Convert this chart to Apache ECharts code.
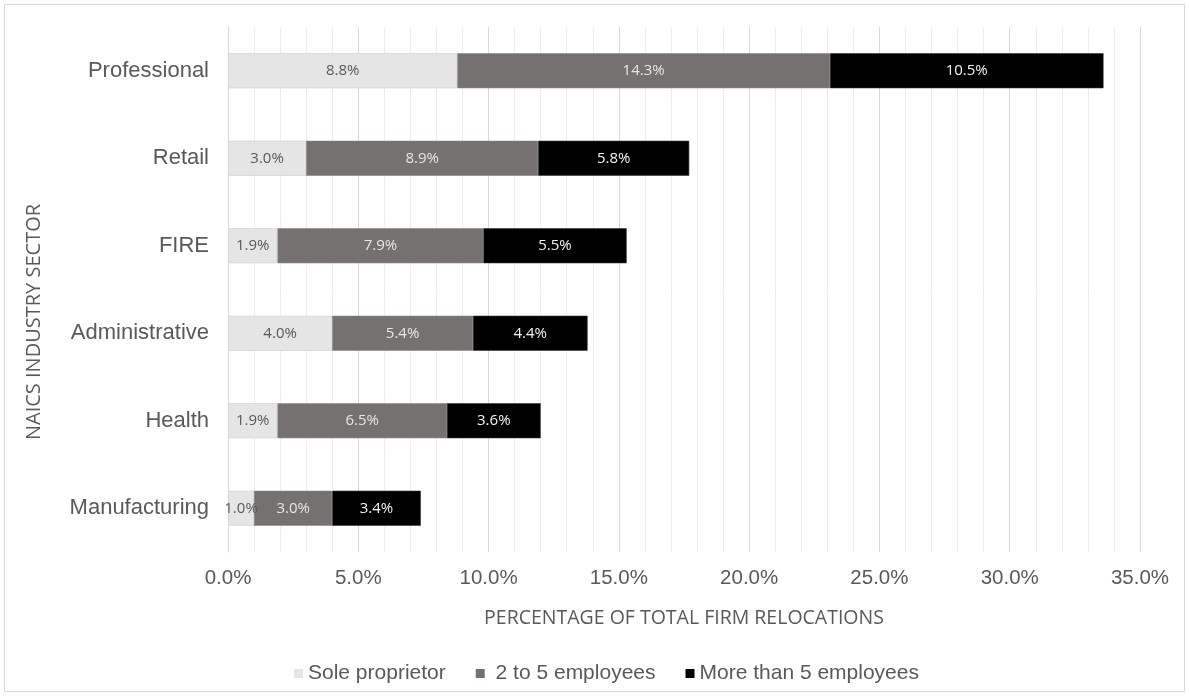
<!DOCTYPE html>
<html>
<head>
<meta charset="utf-8">
<script src="https://cdn.jsdelivr.net/npm/echarts@6/dist/echarts.min.js"></script>
<style>
  html, body { margin: 0; padding: 0; background: #fff; }
  #chart { width: 1189px; height: 696px; }
</style>
</head>
<body>
<div id="chart"></div>
<script>
// Industry sectors, top to bottom
const sectors = ['Professional', 'Retail', 'FIRE', 'Administrative', 'Health', 'Manufacturing'];
// Share of total firm relocations (%) by firm size
const soleProprietor = [8.8, 3.0, 1.9, 4.0, 1.9, 1.0];
const twoToFive = [14.3, 8.9, 7.9, 5.4, 6.5, 3.0];
const moreThanFive = [10.5, 5.8, 5.5, 4.4, 3.6, 3.4];
const seriesNames = ['Sole proprietor', '2 to 5 employees', 'More than 5 employees'];

const labelFont = '"Open Sans", sans-serif';
const axisFont = '"Liberation Sans", Arial, sans-serif';

function barSeries(name, data, fill, textColor, edge) {
  return {
    name: name,
    type: 'bar',
    stack: 'total',
    data: data,
    barWidth: '40%',
    itemStyle: { color: fill, borderColor: edge, borderWidth: 0.6 },
    label: {
      show: true,
      position: 'inside',
      formatter: p => p.value.toFixed(1) + '%',
      color: textColor,
      fontFamily: labelFont,
      fontSize: 15
    },
    emphasis: { disabled: true }
  };
}

const chart = echarts.init(document.getElementById('chart'), null, { renderer: 'canvas' });
chart.setOption({
  animation: false,
  backgroundColor: '#ffffff',
  graphic: [
    {
      type: 'rect',
      shape: { x: 4.5, y: 4.5, width: 1180, height: 687 },
      style: { fill: 'none', stroke: '#d9d9d9', lineWidth: 1 },
      silent: true
    },
    {
      // Vertical axis title, centred a little below the plot middle
      type: 'text',
      x: 34,
      y: 322,
      rotation: Math.PI / 2,
      style: {
        text: 'NAICS INDUSTRY SECTOR',
        fontFamily: labelFont,
        fontSize: 20,
        fill: '#595959',
        align: 'center',
        verticalAlign: 'middle'
      },
      silent: true
    }
  ],
  grid: { left: 228, right: 49, top: 27, bottom: 144, containLabel: false },
  legend: {
    top: 658,
    left: 289,
    itemWidth: 9,
    itemHeight: 9,
    itemGap: 30,
    icon: 'rect',
    itemStyle: { borderWidth: 0 },
    formatter: name => (name === seriesNames[1] ? ' ' + name : name),
    textStyle: { fontFamily: axisFont, fontSize: 21, color: '#595959' },
    data: seriesNames
  },
  xAxis: {
    type: 'value',
    min: 0,
    max: 35,
    interval: 5,
    name: 'PERCENTAGE OF TOTAL FIRM RELOCATIONS',
    nameLocation: 'middle',
    nameGap: 56,
    nameTextStyle: { fontFamily: labelFont, fontSize: 19.5, color: '#595959' },
    axisLine: { show: false },
    axisTick: { show: false },
    axisLabel: {
      formatter: v => v.toFixed(1) + '%',
      fontFamily: axisFont,
      fontSize: 20.5,
      color: '#595959',
      margin: 16
    },
    splitLine: { show: true, lineStyle: { color: '#d9d9d9', width: 1 } },
    minorTick: { show: false, splitNumber: 5 },
    minorSplitLine: { show: true, lineStyle: { color: '#ededed', width: 1 } }
  },
  yAxis: {
    type: 'category',
    inverse: true,
    data: sectors,
    axisLine: { show: true, lineStyle: { color: '#d9d9d9', width: 1 } },
    axisTick: { show: false },
    axisLabel: {
      fontFamily: axisFont,
      fontSize: 22,
      color: '#595959',
      margin: 19
    }
  },
  series: [
    barSeries(seriesNames[0], soleProprietor, '#e5e5e5', '#595959', '#cfcfcf'),
    barSeries(seriesNames[1], twoToFive, '#767171', '#e6e6e6', '#8a8585'),
    barSeries(seriesNames[2], moreThanFive, '#000000', '#f2f2f2', '#333333')
  ]
});
</script>
</body>
</html>
